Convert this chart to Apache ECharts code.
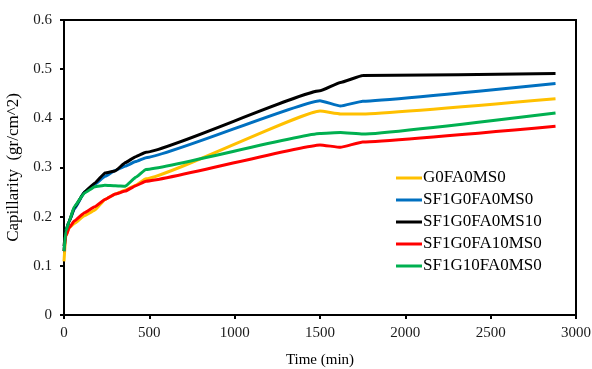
<!DOCTYPE html>
<html>
<head>
<meta charset="utf-8">
<script src="https://cdn.jsdelivr.net/npm/echarts@6/dist/echarts.min.js"></script>
<style>
  html, body { margin: 0; padding: 0; background: #fff; }
  #chart { width: 592px; height: 369px; }
</style>
</head>
<body>
<div id="chart"></div>
<script>
// time points (min)
const times = [0, 10, 30, 60, 120, 180, 240, 300, 360, 420, 480, 1500, 1620, 1750, 2880];

const seriesNames = ['G0FA0MS0', 'SF1G0FA0MS0', 'SF1G0FA0MS10', 'SF1G0FA10MS0', 'SF1G10FA0MS0'];

const g0fa0ms0 = [0.109, 0.160, 0.177, 0.186, 0.202, 0.213, 0.235, 0.246, 0.254, 0.264, 0.277, 0.415, 0.409, 0.409, 0.440];
const sf1g0fa0ms0 = [0.130, 0.170, 0.190, 0.215, 0.250, 0.266, 0.282, 0.294, 0.303, 0.312, 0.320, 0.436, 0.425, 0.435, 0.471];
const sf1g0fa0ms10 = [0.140, 0.170, 0.190, 0.218, 0.250, 0.268, 0.289, 0.293, 0.310, 0.322, 0.331, 0.456, 0.473, 0.487, 0.491];
const sf1g0fa10ms0 = [0.130, 0.160, 0.177, 0.191, 0.208, 0.220, 0.235, 0.246, 0.252, 0.263, 0.272, 0.346, 0.341, 0.352, 0.384];
const sf1g10fa0ms0 = [0.130, 0.170, 0.190, 0.220, 0.248, 0.261, 0.264, 0.263, 0.262, 0.280, 0.296, 0.369, 0.371, 0.368, 0.411];

const allValues = [g0fa0ms0, sf1g0fa0ms0, sf1g0fa0ms10, sf1g0fa10ms0, sf1g10fa0ms0];
const lineColors = ['#FFC000', '#0070C0', '#000000', '#FF0000', '#00B050'];

const font = 'Liberation Serif';

const chart = echarts.init(document.getElementById('chart'), null, { renderer: 'canvas' });

const option = {
  animation: false,
  backgroundColor: '#fff',
  grid: {
    left: 64,
    right: 16,
    top: 20,
    bottom: 54,
    containLabel: false,
    outerBoundsMode: 'none',
    show: true,
    borderColor: '#000',
    borderWidth: 2,
  },
  legend: {
    orient: 'vertical',
    left: 396,
    top: 167,
    padding: 0,
    itemWidth: 26,
    itemHeight: 3,
    itemGap: 0,
    icon: 'rect',
    textStyle: { fontFamily: font, fontSize: 17, color: '#000', padding: [0, 0, 0, -4], lineHeight: 22 },
    data: seriesNames,
  },
  xAxis: {
    type: 'value',
    min: 0,
    max: 3000,
    interval: 500,
    name: 'Time (min)',
    nameLocation: 'middle',
    nameGap: 38,
    nameTextStyle: { fontFamily: font, fontSize: 15, color: '#000' },
    axisLine: { lineStyle: { color: '#000', width: 2 } },
    axisTick: { show: true, length: 4, lineStyle: { color: '#000', width: 2 } },
    axisLabel: { fontFamily: font, fontSize: 15, color: '#1a1a1a', margin: 11, formatter: v => String(v) },
    splitLine: { show: false },
  },
  yAxis: {
    type: 'value',
    min: 0,
    max: 0.6,
    interval: 0.1,
    name: 'Capillarity  (gr/cm^2)',
    nameLocation: 'middle',
    nameGap: 38,
    nameTextStyle: { fontFamily: font, fontSize: 17, color: '#000' },
    axisLine: { show: true, lineStyle: { color: '#000', width: 2 } },
    axisTick: { show: true, length: 4, lineStyle: { color: '#000', width: 2 } },
    axisLabel: { fontFamily: font, fontSize: 15, color: '#1a1a1a', margin: 12 },
    splitLine: { show: false },
  },
  series: seriesNames.map((name, i) => ({
    name: name,
    type: 'line',
    smooth: 0.1,
    smoothMonotone: 'x',
    showSymbol: false,
    symbol: 'none',
    data: times.map((t, j) => [t, allValues[i][j]]),
    lineStyle: { color: lineColors[i], width: 3 },
    itemStyle: { color: lineColors[i] },
  })),
};

chart.setOption(option);
</script>
</body>
</html>
